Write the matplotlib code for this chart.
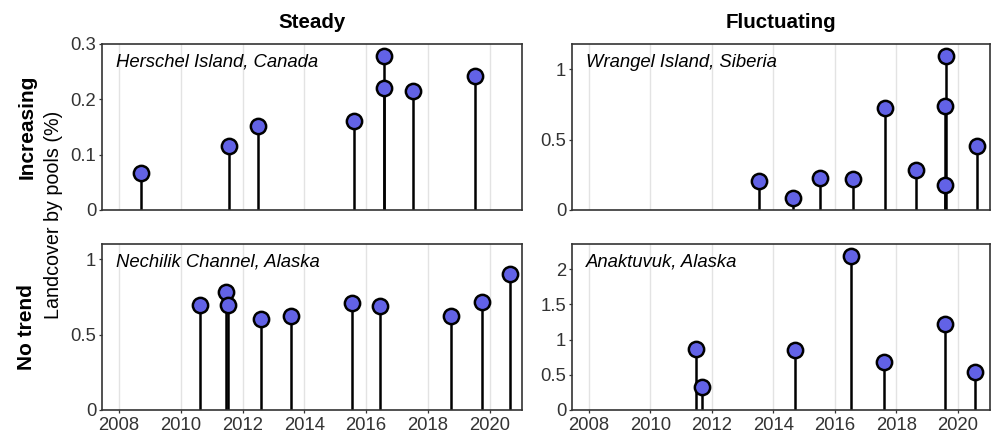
import matplotlib
matplotlib.use("Agg")
import matplotlib.pyplot as plt
from matplotlib.ticker import FuncFormatter

plt.rcParams['font.family'] = ['Liberation Sans', 'DejaVu Sans']

# site data: decimal year, landcover by pools (%)
herschel_year = [2008.70, 2011.56, 2012.50, 2015.61, 2016.59, 2016.59, 2017.52, 2019.54]
herschel_val = [0.066, 0.116, 0.152, 0.161, 0.279, 0.220, 0.215, 0.242]

wrangel_year = [2013.54, 2014.64, 2015.52, 2016.59, 2017.64, 2018.64, 2019.62, 2019.57, 2019.60, 2020.62]
wrangel_val = [0.206, 0.088, 0.225, 0.220, 0.728, 0.281, 1.097, 0.742, 0.180, 0.456]

nechilik_year = [2010.62, 2011.48, 2011.54, 2012.61, 2013.58, 2015.53, 2016.46, 2018.76, 2019.76, 2020.67]
nechilik_val = [0.694, 0.782, 0.696, 0.604, 0.626, 0.709, 0.692, 0.626, 0.716, 0.901]

anaktuvuk_year = [2011.50, 2011.67, 2014.72, 2016.53, 2017.59, 2019.58, 2020.57]
anaktuvuk_val = [0.868, 0.330, 0.849, 2.189, 0.679, 1.226, 0.538]

site_names = ["Herschel Island, Canada", "Wrangel Island, Siberia",
              "Nechilik Channel, Alaska", "Anaktuvuk, Alaska"]
col_titles = ["Steady", "Fluctuating"]
row_titles = ["Increasing", "No trend"]
y_ticks = [[0, 0.1, 0.2, 0.3], [0, 0.5, 1], [0, 0.5, 1], [0, 0.5, 1, 1.5, 2]]
y_tops = [0.30, 1.18, 1.10, 2.36]
x_ticks = [2008, 2010, 2012, 2014, 2016, 2018, 2020]

years = [herschel_year, wrangel_year, nechilik_year, anaktuvuk_year]
vals = [herschel_val, wrangel_val, nechilik_val, anaktuvuk_val]

fig = plt.figure(figsize=(9.95, 4.34), dpi=100)

# panel placement in pixels
W, H = 995, 434
lefts = [102, 572]
rights = [522, 990]
tops = [44, 244]
bottoms = [210, 410]

axes = []
for r in range(2):
    for c in range(2):
        ax = fig.add_axes([lefts[c] / W, 1 - bottoms[r] / H,
                           (rights[c] - lefts[c]) / W, (bottoms[r] - tops[r]) / H])
        axes.append(ax)

tick_col = '#333333'

def fmt(v, pos):
    return '%g' % v

for i, ax in enumerate(axes):
    x = years[i]
    y = vals[i]
    ax.vlines(x, 0, y, color='black', linewidth=1.8, zorder=2)
    ax.plot(x, y, 'o', markersize=11, markerfacecolor='#6262e6',
            markeredgecolor='black', markeredgewidth=1.8, zorder=3,
            clip_on=False)
    ax.set_xlim(2007.45, 2021.05)
    ax.set_ylim(0, y_tops[i])
    ax.set_xticks(x_ticks)
    ax.set_yticks(y_ticks[i])
    ax.yaxis.set_major_formatter(FuncFormatter(fmt))
    ax.grid(axis='x', color='#e3e3e3', linewidth=1.0, zorder=0)
    ax.set_axisbelow(True)
    ax.tick_params(length=2.2, width=0.9, labelsize=13.3, colors=tick_col, pad=2)
    ax.tick_params(axis='x', pad=2.8)
    for sp in ax.spines.values():
        sp.set_color('#333333')
        sp.set_linewidth(1.2)
    if i < 2:
        ax.tick_params(axis='x', length=0, labelbottom=False)
    ax.text(0.033, 0.94, site_names[i], transform=ax.transAxes,
            fontsize=13.3, style='italic', ha='left', va='top', color='black')

for c in range(2):
    fig.text((lefts[c] + rights[c]) / 2 / W, 1 - 22 / H, col_titles[c],
             fontsize=14.8, fontweight='bold', ha='center', va='center')
for r in range(2):
    fig.text(27 / W, 1 - (tops[r] + bottoms[r]) / 2 / H, row_titles[r],
             fontsize=15, fontweight='bold', rotation=90, ha='center', va='center')

fig.text(54 / W, 1 - 215 / H, "Landcover by pools (%)", fontsize=14.2,
         rotation=90, ha='center', va='center', color='black')

fig.savefig("out.png", dpi=100)
